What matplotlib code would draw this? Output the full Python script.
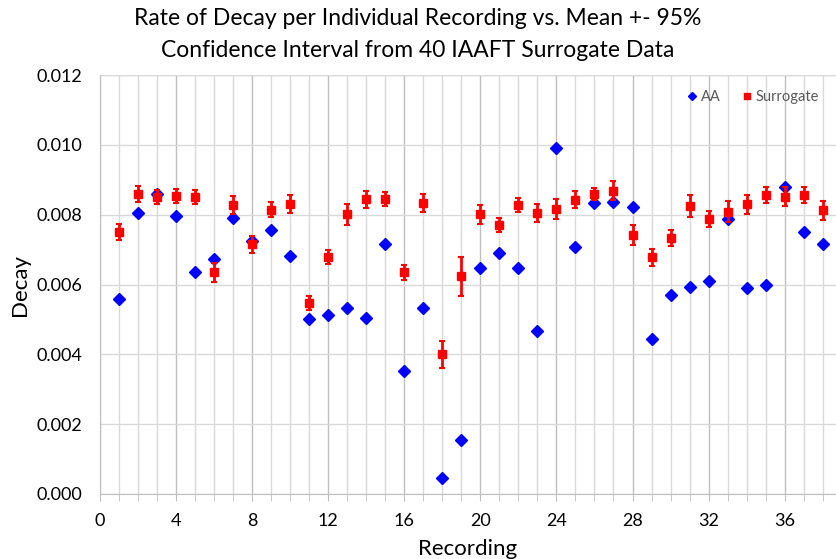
import matplotlib.pyplot as plt
import numpy as np

# data
recording = list(range(1, 39))
aa = [0.00558, 0.00804, 0.00859, 0.00795, 0.00637, 0.00672, 0.00790, 0.00726, 0.00755, 0.00683,
      0.00501, 0.00514, 0.00533, 0.00504, 0.00717, 0.00351, 0.00532, 0.00047, 0.00155, 0.00646,
      0.00690, 0.00646, 0.00468, 0.00991, 0.00706, 0.00833, 0.00836, 0.00821, 0.00445, 0.00570,
      0.00592, 0.00611, 0.00787, 0.00589, 0.00600, 0.00880, 0.00750, 0.00717]
surrogate = [0.00750, 0.00860, 0.00850, 0.00854, 0.00852, 0.00635, 0.00828, 0.00715, 0.00814, 0.00831,
             0.00546, 0.00679, 0.00801, 0.00844, 0.00845, 0.00635, 0.00833, 0.00400, 0.00623, 0.00801,
             0.00770, 0.00827, 0.00806, 0.00817, 0.00843, 0.00859, 0.00869, 0.00742, 0.00678, 0.00733,
             0.00825, 0.00788, 0.00808, 0.00830, 0.00856, 0.00852, 0.00856, 0.00812]
ci95 = [0.00023, 0.00023, 0.00020, 0.00020, 0.00020, 0.00028, 0.00026, 0.00025, 0.00022, 0.00025,
        0.00020, 0.00020, 0.00030, 0.00024, 0.00020, 0.00022, 0.00025, 0.00038, 0.00056, 0.00027,
        0.00020, 0.00020, 0.00026, 0.00029, 0.00025, 0.00018, 0.00027, 0.00029, 0.00025, 0.00024,
        0.00031, 0.00023, 0.00030, 0.00027, 0.00023, 0.00028, 0.00022, 0.00026]

plt.rcParams['font.family'] = ['Lato', 'DejaVu Sans']

fig = plt.figure(figsize=(8.36, 5.59), dpi=100)
ax = fig.add_axes([0.1196, 0.1163, 0.8804, 0.7495])

ax.plot(recording, aa, linestyle='none', marker='D', color='#0000ff', markersize=6, label='AA', zorder=3)
ax.errorbar(recording, surrogate, yerr=ci95, fmt='none', ecolor='#ff0000',
            elinewidth=2, capsize=2.5, capthick=1.5, zorder=3)
ax.plot(recording, surrogate, linestyle='none', marker='s', color='#ff0000', markersize=6,
        label='Surrogate', zorder=4)

ax.set_xlim(0, 38.7)
ax.set_ylim(0, 0.012)
ax.set_xticks(np.arange(0, 37, 4))
ax.set_xticks(np.arange(0, 39, 1), minor=True)
ax.set_yticks(np.arange(0, 0.0121, 0.002))
ax.yaxis.set_major_formatter(plt.FuncFormatter(lambda v, p: '%.3f' % v))

ax.grid(True, which='minor', axis='x', color='#d9d9d9', linewidth=1)
ax.grid(True, which='major', axis='x', color='#bfbfbf', linewidth=1)
ax.grid(True, which='major', axis='y', color='#d9d9d9', linewidth=1)
ax.set_axisbelow(True)

for s in ['top', 'right']:
    ax.spines[s].set_visible(False)
ax.spines['left'].set_color('#bfbfbf')
ax.spines['bottom'].set_color('#bfbfbf')
ax.tick_params(axis='x', which='both', direction='out', length=5, color='#bfbfbf', labelsize=13, pad=9)
ax.tick_params(axis='y', length=0, labelsize=13, pad=13)
ax.axhline(0.012, color='#d9d9d9', linewidth=1, zorder=0)

ax.set_xlabel('Recording', fontsize=16, labelpad=7)
ax.set_ylabel('Decay', fontsize=16, labelpad=4)
fig.suptitle('Rate of Decay per Individual Recording vs. Mean +- 95%\nConfidence Interval from 40 IAAFT Surrogate Data',
             fontsize=16.5, y=0.985, x=0.5, linespacing=1.6)

leg = ax.legend(loc='upper right', ncol=2, frameon=False, fontsize=10.5, handletextpad=0.0,
                columnspacing=1.2, markerscale=0.75, handlelength=1.2, bbox_to_anchor=(0.995, 0.995))
for t in leg.get_texts():
    t.set_color('#595959')

fig.savefig('out.png', dpi=100)
